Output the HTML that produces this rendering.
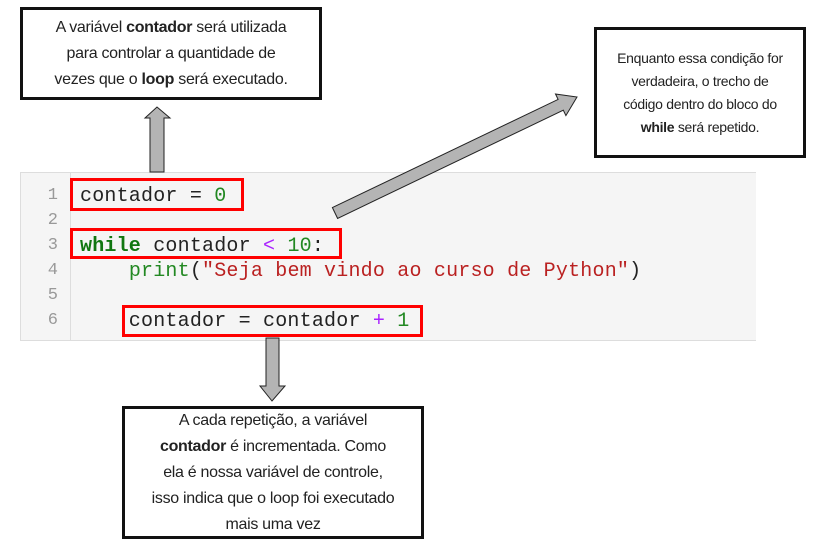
<!DOCTYPE html>
<html><head><meta charset="utf-8"><style>
body{margin:0;width:828px;height:548px;background:#fff;position:relative;overflow:hidden;font-family:"Liberation Sans",sans-serif}
.box{position:absolute;border:3px solid #111;background:#fff;box-sizing:border-box;text-align:center;color:#222;display:flex;align-items:center;justify-content:center}
.box>div{display:block;width:100%;white-space:nowrap}
.code{position:absolute;left:20px;top:172px;width:736px;height:169px;background:#f5f5f5;border:1px solid #ddd;border-right:none;box-sizing:border-box}
.gut{position:absolute;left:70px;top:172px;width:1px;height:169px;background:#ddd}
.ln{position:absolute;left:38px;width:20px;text-align:right;font:17px "Liberation Mono",monospace;color:#999}
.cl{position:absolute;left:80px;font:20px "Liberation Mono",monospace;color:#222;white-space:pre;letter-spacing:0.2px}
.r{position:absolute;border:3px solid #f00;box-sizing:border-box}
.g{color:#228822}.k{color:#117711;font-weight:bold}.p{color:#aa22ff}.s{color:#ba2121}
</style></head><body>
<div class="box" style="left:20px;top:7px;width:302px;height:93px;font-size:16px;line-height:26px;letter-spacing:-0.3px"><div>A variável <b>contador</b> será utilizada<br>para controlar a quantidade de<br>vezes que o <b>loop</b> será executado.</div></div>
<div class="box" style="left:594px;top:27px;width:212px;height:131px;font-size:14px;line-height:23px;letter-spacing:-0.3px"><div>Enquanto essa condição for<br>verdadeira, o trecho de<br>código dentro do bloco do<br><b>while</b> será repetido.</div></div>
<div class="box" style="left:122px;top:406px;width:302px;height:133px;font-size:16px;line-height:26px;letter-spacing:-0.3px"><div>A cada repetição, a variável<br><b>contador</b> é incrementada. Como<br>ela é nossa variável de controle,<br>isso indica que o loop foi executado<br>mais uma vez</div></div>
<div class="code"></div><div class="gut"></div>
<div class="ln" style="top:186px">1</div><div class="ln" style="top:211px">2</div><div class="ln" style="top:236px">3</div><div class="ln" style="top:261px">4</div><div class="ln" style="top:286px">5</div><div class="ln" style="top:311px">6</div>
<div class="cl" style="top:185px">contador = <span class="g">0</span></div>
<div class="cl" style="top:235px"><span class="k">while</span> contador <span class="p">&lt;</span> <span class="g">10</span>:</div>
<div class="cl" style="top:260px">    <span class="g">print</span>(<span class="s">"Seja bem vindo ao curso de Python"</span>)</div>
<div class="cl" style="top:310px">    contador = contador <span class="p">+</span> <span class="g">1</span></div>
<div class="r" style="left:70px;top:178px;width:174px;height:33px"></div>
<div class="r" style="left:70px;top:228px;width:272px;height:31px"></div>
<div class="r" style="left:122px;top:305px;width:301px;height:32px"></div>
<svg width="828" height="548" style="position:absolute;left:0;top:0">
<polygon points="150,172 164,172 164,118 170,118 157,107 145,118 150,118" fill="#b4b4b4" stroke="#222" stroke-width="1"/>
<polygon points="266,338 279,338 279,386 285,386 272,401 260,386 266,386" fill="#b4b4b4" stroke="#222" stroke-width="1"/>
<polygon points="332.4,207.6 558.1,99.4 555.5,94 577,97 565.9,115.6 563.3,110.2 337.6,218.4" fill="#b4b4b4" stroke="#222" stroke-width="1"/>
</svg>
</body></html>
